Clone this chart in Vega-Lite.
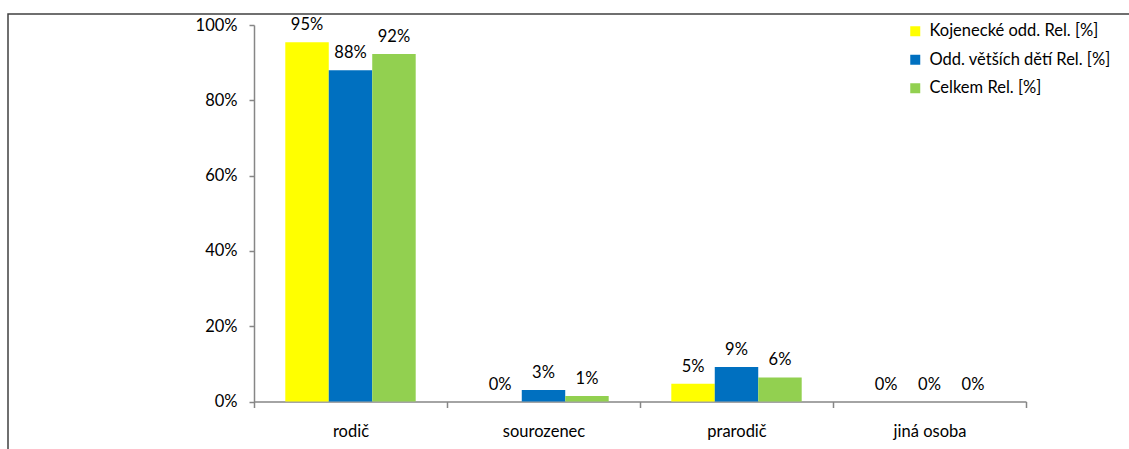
{
  "$schema": "https://vega.github.io/schema/vega-lite/v6.json",
  "autosize": {"type": "none"},
  "padding": {"left": 8, "top": 14, "right": 0, "bottom": 0},
  "width": 1140,
  "height": 440,
  "background": "white",
  "config": {
    "font": "Lato",
    "view": {"stroke": "#404040", "strokeWidth": 1.5},
    "axis": {"grid": false, "domainColor": "#868686", "tickColor": "#868686", "domainWidth": 1.5, "tickWidth": 1.5, "labelColor": "#000000", "labelFont": "Lato", "labelFontSize": 16.5, "title": null}
  },
  "data": {
    "values": [
      {"kategorie": "rodič", "serie": "Kojenecké odd. Rel. [%]", "podil": 0.954},
      {"kategorie": "rodič", "serie": "Odd. větších dětí Rel. [%]", "podil": 0.88},
      {"kategorie": "rodič", "serie": "Celkem Rel. [%]", "podil": 0.923},
      {"kategorie": "sourozenec", "serie": "Kojenecké odd. Rel. [%]", "podil": 0},
      {"kategorie": "sourozenec", "serie": "Odd. větších dětí Rel. [%]", "podil": 0.0305},
      {"kategorie": "sourozenec", "serie": "Celkem Rel. [%]", "podil": 0.0146},
      {"kategorie": "prarodič", "serie": "Kojenecké odd. Rel. [%]", "podil": 0.047},
      {"kategorie": "prarodič", "serie": "Odd. větších dětí Rel. [%]", "podil": 0.0916},
      {"kategorie": "prarodič", "serie": "Celkem Rel. [%]", "podil": 0.064},
      {"kategorie": "jiná osoba", "serie": "Kojenecké odd. Rel. [%]", "podil": 0},
      {"kategorie": "jiná osoba", "serie": "Odd. větších dětí Rel. [%]", "podil": 0},
      {"kategorie": "jiná osoba", "serie": "Celkem Rel. [%]", "podil": 0}
    ]
  },
  "encoding": {
    "x": {
      "field": "kategorie",
      "type": "nominal",
      "sort": ["rodič", "sourozenec", "prarodič", "jiná osoba"],
      "scale": {"range": [246, 1018], "paddingInner": 0, "paddingOuter": 0},
      "axis": {"labelAngle": 0, "tickBand": "extent", "tickSize": 6, "labelPadding": 16, "offset": -52.5}
    },
    "xOffset": {
      "field": "serie",
      "type": "nominal",
      "sort": ["Kojenecké odd. Rel. [%]", "Odd. větších dětí Rel. [%]", "Celkem Rel. [%]"],
      "scale": {"paddingInner": 0, "paddingOuter": 0.72}
    },
    "y": {
      "field": "podil",
      "type": "quantitative",
      "scale": {"domain": [0, 1], "range": [387.5, 11], "nice": false},
      "axis": {"values": [0, 0.2, 0.4, 0.6, 0.8, 1], "format": ".0%", "tickSize": 5, "labelPadding": 12, "offset": -246}
    }
  },
  "layer": [
    {
      "mark": {"type": "bar"},
      "encoding": {
        "color": {
          "field": "serie",
          "type": "nominal",
          "sort": ["Kojenecké odd. Rel. [%]", "Odd. větších dětí Rel. [%]", "Celkem Rel. [%]"],
          "scale": {"range": ["#FFFF00", "#0070C0", "#92D050"]},
          "legend": {
            "title": null,
            "orient": "none",
            "legendX": 899,
            "legendY": 9,
            "symbolType": "square",
            "symbolSize": 100,
            "symbolStrokeWidth": 0,
            "symbolOpacity": 1,
            "labelFontSize": 16.5,
            "labelColor": "#000000",
            "labelLimit": 400,
            "labelOffset": 6,
            "rowPadding": 11.5
          }
        }
      }
    },
    {
      "mark": {"type": "text", "baseline": "bottom", "dy": -9, "fontSize": 16.5, "color": "#000000"},
      "encoding": {
        "text": {"field": "podil", "type": "quantitative", "format": ".0%"}
      }
    }
  ]
}
